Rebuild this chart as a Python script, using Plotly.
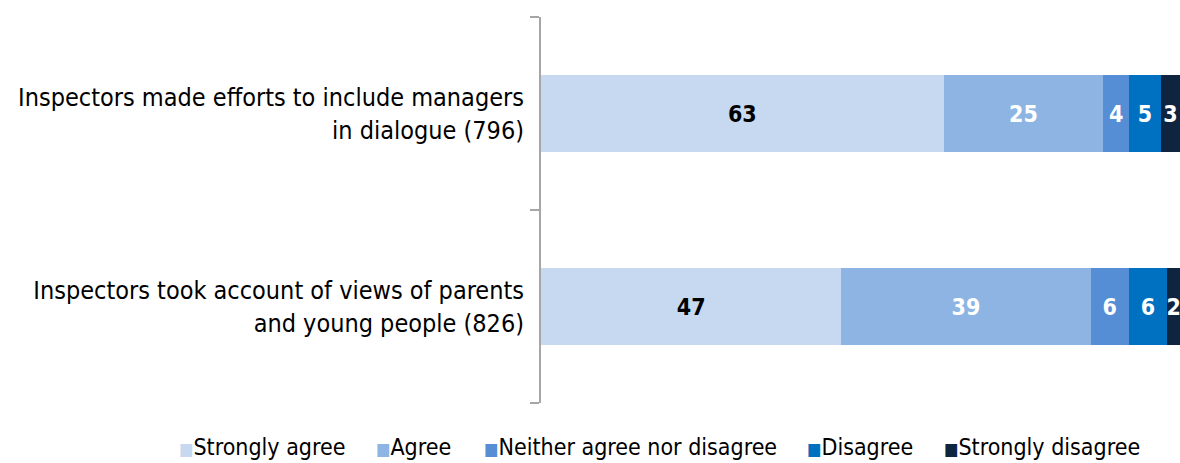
import plotly.graph_objects as go

# Survey statements (top to bottom) and percentage responses
statements = [
    "Inspectors made efforts to include managers<br>in dialogue (796)",
    "Inspectors took account of views of parents<br>and young people (826)",
]
responses = ["Strongly agree", "Agree", "Neither agree nor disagree", "Disagree", "Strongly disagree"]
strongly_agree = [63, 47]
agree = [25, 39]
neither = [4, 6]
disagree = [5, 6]
strongly_disagree = [3, 2]

series = [strongly_agree, agree, neither, disagree, strongly_disagree]
colors = ["#C6D9F1", "#8DB4E2", "#558ED5", "#0070C0", "#0F243E"]
label_colors = ["#000000", "#FFFFFF", "#FFFFFF", "#FFFFFF", "#FFFFFF"]

FONT = "DejaVu Sans Condensed, DejaVu Sans"
AXIS_GREY = "#A6A6A6"

n = len(statements)
positions = list(range(n))

fig = go.Figure()
for name, vals, col, lc in zip(responses, series, colors, label_colors):
    fig.add_trace(go.Bar(
        y=positions,
        x=vals,
        name=name,
        orientation="h",
        width=0.4,
        marker=dict(color=col, line=dict(width=0)),
        text=[str(v) for v in vals],
        textposition="inside",
        insidetextanchor="middle",
        textangle=0,
        constraintext="none",
        textfont=dict(family=FONT, size=23, color=lc, weight="bold"),
        showlegend=False,
        hoverinfo="skip",
    ))

# Legend drawn as a row of coloured squares followed by text
legend_x_px = [177, 374, 482, 805, 942]
plot_left, plot_width = 541, 639
for name, col, px in zip(responses, colors, legend_x_px):
    fig.add_annotation(
        x=(px - plot_left) / plot_width, y=-0.113,
        xref="paper", yref="paper",
        xanchor="left", yanchor="middle",
        text=f'<span style="color:{col};font-size:17px">■</span>{name}',
        showarrow=False,
        font=dict(family=FONT, size=23, color="#000000"),
    )

fig.update_layout(
    barmode="stack",
    width=1180,
    height=463,
    margin=dict(l=541, r=0, t=17, b=60),
    paper_bgcolor="white",
    plot_bgcolor="white",
    font=dict(family=FONT, size=21, color="#000000"),
    xaxis=dict(range=[0, 100], visible=False, fixedrange=True),
    yaxis=dict(
        range=[n - 0.5, -0.5],
        tickmode="array",
        tickvals=positions,
        ticktext=statements,
        ticks="",
        showline=True,
        linecolor=AXIS_GREY,
        linewidth=2,
        showgrid=False,
        zeroline=False,
        ticklabelstandoff=10,
        tickfont=dict(family=FONT, size=25, color="#000000"),
        # tick marks sit on the boundaries between statements
        minor=dict(
            tickmode="array",
            tickvals=[i - 0.5 for i in range(n + 1)],
            ticks="outside",
            ticklen=9,
            tickwidth=2,
            tickcolor=AXIS_GREY,
            showgrid=False,
        ),
    ),
)

fig.write_html("out.html")
